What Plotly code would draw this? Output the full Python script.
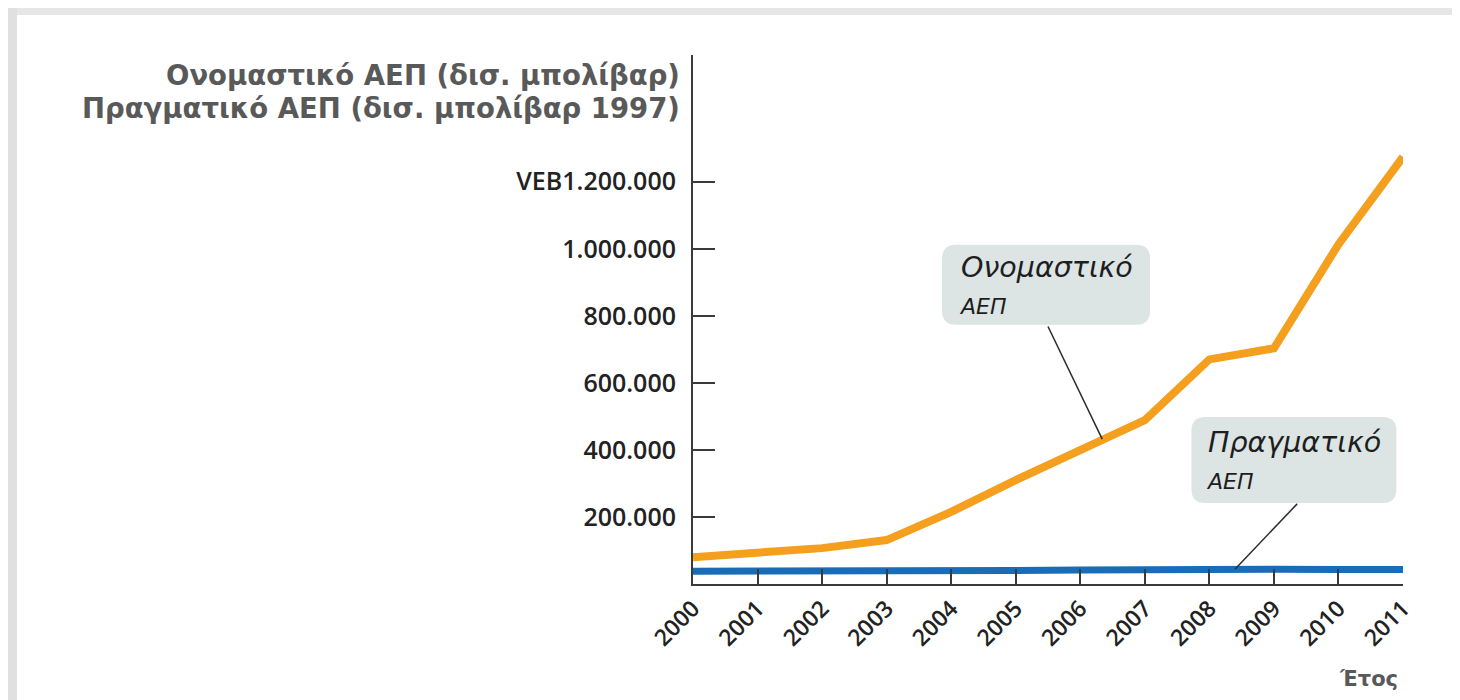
"""Venezuela: nominal vs real GDP, 2000-2011 (Plotly recreation)."""

from __future__ import annotations

import plotly.graph_objects as go

# Data
YEARS = list(range(2000, 2012))
NOMINAL_GDP = [80_000, 92_000, 107_000, 131_000, 215_000, 310_000,
               402_000, 489_000, 670_000, 703_000, 1_013_000, 1_274_000]
REAL_GDP = [38_000, 38_000, 37_000, 36_000, 38_000, 40_000,
            42_000, 44_000, 46_000, 44_000, 43_000, 43_000]

Y_TICKS = [200_000, 400_000, 600_000, 800_000, 1_000_000, 1_200_000]
Y_TICK_TEXT = ["200.000", "400.000", "600.000", "800.000", "1.000.000", "VEB1.200.000"]
X_TICK_TEXT = [str(y) for y in YEARS]

Y_TITLE_LINES = ["Ονομαστικό ΑΕΠ (δισ. μπολίβαρ)",
                 "Πραγματικό ΑΕΠ (δισ. μπολίβαρ 1997)"]
X_TITLE = "Έτος"
LABEL_NOMINAL = ("<i>Ονομαστικό</i><br>"
                 "<i><span style='font-size:22px'>ΑΕΠ</span></i>")
LABEL_REAL = ("<i>Πραγματικό</i><br>"
              "<i><span style='font-size:22px'>ΑΕΠ</span></i>")

ORANGE = "#F49F1E"
BLUE = "#1A6CB7"
BOX_FILL = "#DCE5E4"
AXIS_COLOR = "#3a3a3a"
TITLE_GREY = "#595959"
FONT = "Open Sans"
WIDE_FONT = "DejaVu Sans"


def rounded_box(w: float, h: float, r: float) -> str:
    """SVG path for a rounded rectangle centred on (0, 0), in pixels."""
    x0, x1, y0, y1 = -w / 2, w / 2, -h / 2, h / 2
    return (
        f"M {x0 + r},{y0} L {x1 - r},{y0} Q {x1},{y0} {x1},{y0 + r} "
        f"L {x1},{y1 - r} Q {x1},{y1} {x1 - r},{y1} "
        f"L {x0 + r},{y1} Q {x0},{y1} {x0},{y1 - r} "
        f"L {x0},{y0 + r} Q {x0},{y0} {x0 + r},{y0} Z"
    )


def add_callout(fig, text, cx, cy, w, h, tip, start):
    """Rounded label box anchored at (cx, cy) plus a thin pointer line."""
    fig.add_shape(
        type="line", xref="x", yref="y",
        x0=start[0], y0=start[1], x1=tip[0], y1=tip[1],
        line={"color": "#2b2b2b", "width": 1.5},
    )
    fig.add_shape(
        type="path", xref="x", yref="y",
        xsizemode="pixel", ysizemode="pixel",
        xanchor=cx, yanchor=cy,
        path=rounded_box(w, h, 14),
        fillcolor=BOX_FILL, line={"width": 0}, layer="above",
    )
    fig.add_annotation(
        x=cx, y=cy, xref="x", yref="y", text=text, showarrow=False,
        align="left", xanchor="center", yanchor="middle",
        font={"family": WIDE_FONT, "size": 28.5, "color": "#1e1e1e"},
    )


fig = go.Figure()
fig.add_trace(go.Scatter(
    x=YEARS, y=NOMINAL_GDP, mode="lines", name="Ονομαστικό ΑΕΠ",
    line={"color": ORANGE, "width": 8},
))
fig.add_trace(go.Scatter(
    x=YEARS, y=REAL_GDP, mode="lines", name="Πραγματικό ΑΕΠ",
    line={"color": BLUE, "width": 7},
))

add_callout(fig, LABEL_NOMINAL, 2005.47, 893_000, 208, 80,
            tip=(2006.34, 432_000), start=(2005.50, 768_000))
add_callout(fig, LABEL_REAL, 2009.31, 370_000, 205, 86,
            tip=(2008.40, 45_000), start=(2009.36, 239_000))

# Axis title (horizontal, top-left, one annotation per line) and x label
for text, ypos in zip(Y_TITLE_LINES, [0.962, 0.900]):
    fig.add_annotation(
        xref="paper", yref="paper", x=-0.016, y=ypos,
        xanchor="right", yanchor="middle", showarrow=False, text=text,
        font={"family": WIDE_FONT, "size": 27.5, "color": TITLE_GREY, "weight": "bold"},
    )
fig.add_annotation(
    xref="paper", yref="paper", x=0.996, y=-0.18,
    xanchor="right", yanchor="middle", showarrow=False, text=X_TITLE,
    font={"family": WIDE_FONT, "size": 21, "color": TITLE_GREY, "weight": "bold"},
)

# Grey "photo frame" edges at the top and left of the picture
for i, shade in enumerate(["#a6a6a6", "#b8b8b8", "#cdcdcd", "#e6e6e6"]):
    fig.add_shape(type="rect", xref="paper", yref="paper",
                  x0=-0.9648, x1=1.0803, y0=1.0888 - (i + 1) * 0.0033, y1=1.0888,
                  fillcolor=shade, line={"width": 0}, layer="below")
for i, shade in enumerate(["#a6a6a6", "#b4b4b4", "#c6c6c6", "#e0e0e0"]):
    fig.add_shape(type="rect", xref="paper", yref="paper",
                  x0=-0.9648, x1=-0.9648 + (i + 1) * 0.0032, y0=-0.2193, y1=1.0888,
                  fillcolor=shade, line={"width": 0}, layer="below")

# The page body has an 8px margin, so the figure is 8px smaller each way
fig.update_layout(
    width=1452, height=692,
    showlegend=False,
    plot_bgcolor="white", paper_bgcolor="white",
    margin={"l": 685, "r": 57, "t": 47, "b": 116},
    font={"family": FONT, "color": "#222222"},
    xaxis={
        "range": [2000, 2011],
        "tickvals": YEARS, "ticktext": X_TICK_TEXT, "tickangle": -45,
        "ticks": "inside", "ticklen": 15, "tickwidth": 2, "tickcolor": AXIS_COLOR,
        "showline": True, "linecolor": AXIS_COLOR, "linewidth": 2,
        "showgrid": False, "zeroline": False,
        "tickfont": {"family": FONT, "size": 23, "color": "#222222", "weight": 600},
    },
    yaxis={
        "range": [0, 1_578_000],
        "tickvals": Y_TICKS, "ticktext": Y_TICK_TEXT,
        "ticks": "inside", "ticklen": 22, "tickwidth": 2, "tickcolor": AXIS_COLOR,
        "showline": True, "linecolor": AXIS_COLOR, "linewidth": 2,
        "showgrid": False, "zeroline": False,
        "ticklabelstandoff": 10,
        "tickfont": {"family": FONT, "size": 25, "color": "#222222", "weight": 600},
    },
)

fig.write_html("out.html")
